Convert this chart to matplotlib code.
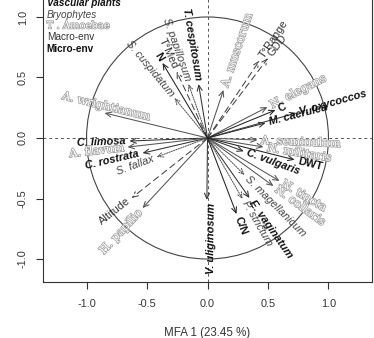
import numpy as np
import matplotlib
matplotlib.use("Agg")
import matplotlib.pyplot as plt
from matplotlib.patches import Circle, FancyArrowPatch, ArrowStyle
import matplotlib.patheffects as pe

# ---------------- data ----------------
vasc_names = ["T. cespitosum", "C. limosa", "C. rostrata", "V. uliginosum",
              "E. vaginatum", "C. vulgaris", "M. caerulea", "V. oxycoccos"]
vasc_x = [-0.074, -0.645, -0.537, -0.005, 0.347, 0.300, 0.480, 0.735]
vasc_y = [0.446, -0.025, -0.125, -0.512, -0.496, -0.110, 0.124, 0.207]

bryo_names = ["S. papillosum", "S. cuspidatum", "S. fallax", "S. magellanicum", "P. strictum"]
bryo_x = [-0.157, -0.273, -0.421, 0.306, 0.290]
bryo_y = [0.446, 0.331, -0.157, -0.306, -0.504]

amoe_names = ["A. wrightianum", "A. flavum", "H. papilio", "N. tincta", "N. collaris",
              "N. militaris", "A. seminulum", "N. elegans", "A. muscorum"]
amoe_x = [-0.851, -0.661, -0.537, 0.595, 0.545, 0.463, 0.413, 0.496, 0.132]
amoe_y = [0.207, -0.075, -0.579, -0.355, -0.397, -0.074, -0.017, 0.256, 0.397]

macro_names = ["T°Med", "Altitude", "T°Range", "GDD"]
macro_x = [-0.255, -0.628, 0.430, 0.500]
macro_y = [0.550, -0.496, 0.640, 0.660]

micro_names = ["N", "C/N", "DWT", "C"]
micro_x = [-0.372, 0.240, 0.720, 0.562]
micro_y = [0.620, -0.628, -0.180, 0.231]

legend_labels = ["Vascular plants", "Bryophytes", "T . Amoebae", "Macro-env", "Micro-env"]
xticks = [-1.0, -0.5, 0.0, 0.5, 1.0]
yticks = [-1.0, -0.5, 0.0, 0.5, 1.0]
xlabel = "MFA 1 (23.45 %)"

# ---------------- styles ----------------
SANS = "Liberation Sans"
styles = {
    "vasc": dict(tcolor="#111111", style="italic", weight="bold", family=SANS, size=7.9,
                 lcolor="#333333", ls="-", outline=False),
    "bryo": dict(tcolor="#444444", style="italic", weight="normal", family=SANS, size=7.9,
                 lcolor="#555555", ls=(0, (1.2, 1.2)), outline=False),
    "amoe": dict(tcolor="white", style="normal", weight="normal", family="DejaVu Serif", size=8.3,
                 lcolor="#555555", ls="-", outline=True),
    "macro": dict(tcolor="#333333", style="normal", weight="normal", family=SANS, size=7.9,
                  lcolor="#444444", ls=(0, (6, 4)), outline=False),
    "micro": dict(tcolor="#111111", style="normal", weight="bold", family=SANS, size=7.9,
                  lcolor="#222222", ls="-", outline=False),
}
outline_fx = [pe.withStroke(linewidth=1.1, foreground="#a0a0a0")]

# label layout overrides: (ha, gap_along_pts, perp_pts)
label_layout = {
    "A. wrightianum": ("center", 0, 5),
    "V. uliginosum": ("right", 2, -3.5),
}

fig = plt.figure(figsize=(3.74, 3.38), dpi=100)
ax = fig.add_axes([43 / 374, 56 / 338, 329 / 374, 288 / 338])
ax.set_xlim(-1.36, 1.36)
ax.set_ylim(-1.19, 1.19)

# reference lines and circle
ax.axhline(0, color="#555555", lw=0.7, ls=(0, (3, 3)), zorder=1)
ax.axvline(0, color="#555555", lw=0.7, ls=(0, (3, 3)), zorder=1)
ax.add_patch(Circle((0, 0), 1.0, fill=False, ec="#444444", lw=0.8, zorder=1))

groups = [("vasc", vasc_names, vasc_x, vasc_y),
          ("bryo", bryo_names, bryo_x, bryo_y),
          ("amoe", amoe_names, amoe_x, amoe_y),
          ("macro", macro_names, macro_x, macro_y),
          ("micro", micro_names, micro_x, micro_y)]

for key, names, xs, ys in groups:
    st = styles[key]
    for name, x, y in zip(names, xs, ys):
        arr = FancyArrowPatch((0, 0), (x, y),
                              arrowstyle=ArrowStyle("->", head_length=4, head_width=1.8),
                              mutation_scale=1, shrinkA=0, shrinkB=0,
                              color=st["lcolor"], lw=0.75, linestyle=st["ls"], zorder=2)
        ax.add_patch(arr)
        ang = np.degrees(np.arctan2(y, x))
        if x >= 0:
            rot, ha = ang, "left"
        else:
            rot, ha = ang - 180, "right"
        gap, perp = 2.5, 0
        if name in label_layout:
            ha, gap, perp = label_layout[name]
        a = np.radians(ang)
        r = np.radians(rot)
        ox = gap * np.cos(a) - perp * np.sin(r)
        oy = gap * np.sin(a) + perp * np.cos(r)
        t = ax.annotate(name, xy=(x, y), xytext=(ox, oy), textcoords="offset points",
                        rotation=rot, rotation_mode="anchor", ha=ha, va="center",
                        color=st["tcolor"], fontstyle=st["style"], fontweight=st["weight"],
                        family=st["family"], fontsize=st["size"], zorder=3)
        if st["outline"]:
            t.set_path_effects(outline_fx)

# legend text block
leg_keys = ["vasc", "bryo", "amoe", "macro", "micro"]
leg_y = [1.116, 1.017, 0.926, 0.835, 0.736]
for lab, k, yy in zip(legend_labels, leg_keys, leg_y):
    st = styles[k]
    t = ax.text(-1.33, yy, lab, ha="left", va="center", color=st["tcolor"],
                fontstyle=st["style"], fontweight=st["weight"], family=st["family"],
                fontsize=7.2, zorder=4)
    if st["outline"]:
        t.set_path_effects(outline_fx)

# axes styling (R base look)
for s in ax.spines.values():
    s.set_color("#333333")
    s.set_linewidth(0.8)
ax.set_xticks(xticks)
ax.set_yticks(yticks)
ax.set_xticklabels([f"{v:.1f}" for v in xticks])
ax.set_yticklabels([f"{v:.1f}" for v in yticks], rotation=90, va="center")
ax.tick_params(axis="x", direction="out", length=5, width=0.8, color="#333333",
               labelsize=7.8, labelcolor="#333333", pad=7)
ax.tick_params(axis="y", direction="out", length=5, width=0.8, color="#333333",
               labelsize=7.8, labelcolor="#333333", pad=6)
for lab in ax.get_xticklabels() + ax.get_yticklabels():
    lab.set_family(SANS)
ax.set_xlabel(xlabel, fontsize=8.3, family=SANS, color="#333333", labelpad=13)
ax.set_ylabel("MFA 2", fontsize=8.3, family=SANS, color="#333333")
ax.yaxis.set_label_coords(-0.14, 0.5)

fig.savefig("out.png", dpi=100)
